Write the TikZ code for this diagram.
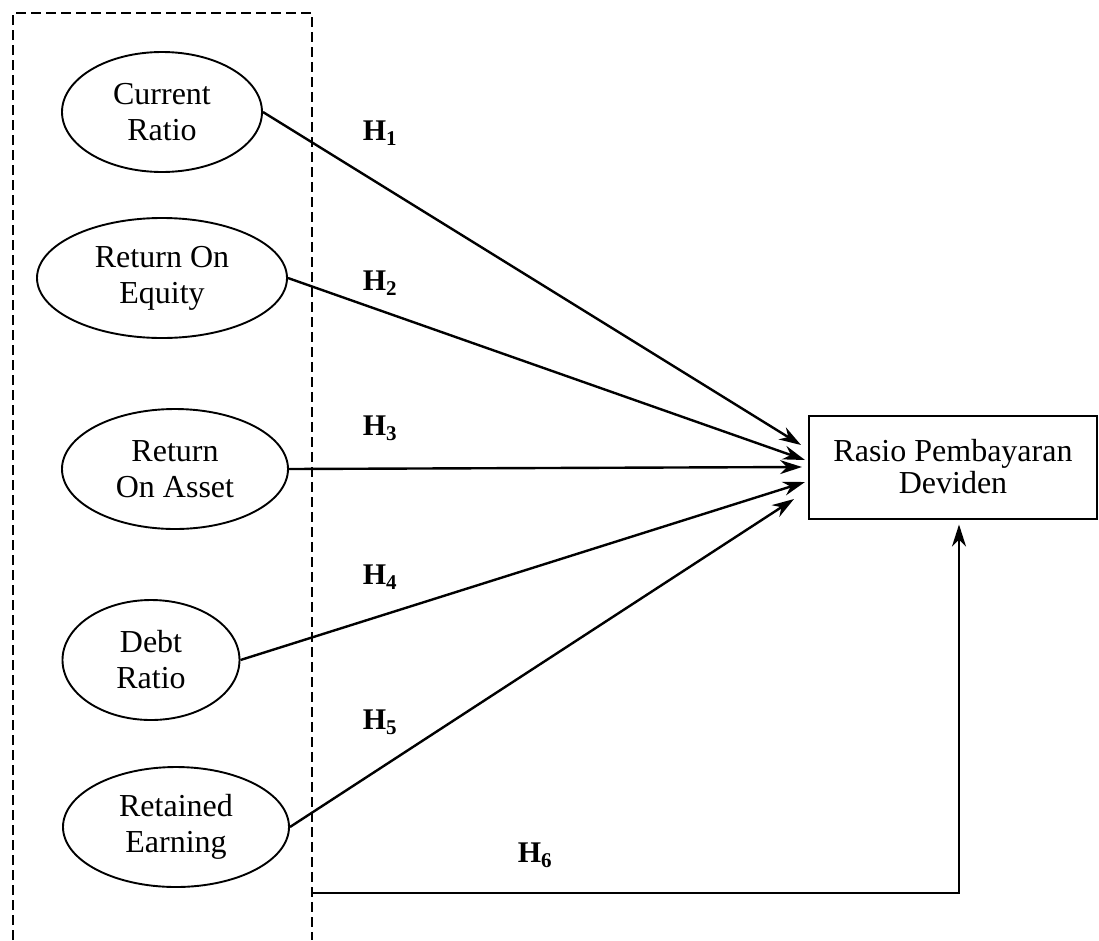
\documentclass[tikz,border=0pt]{standalone}
\usepackage{fontspec}
\setmainfont{Liberation Serif}
\usetikzlibrary{shapes.geometric,arrows.meta,calc}
\begin{document}
\begin{tikzpicture}[x=1pt,y=-1pt,
  var/.style={ellipse,draw,line width=1.9pt,inner sep=0pt,align=center,
    font=\fontsize{32}{36}\selectfont},
  target/.style={rectangle,draw,line width=2pt,inner sep=0pt,align=center,
    minimum width=288pt,minimum height=103pt,font=\fontsize{32}{32}\selectfont},
  link/.style={line width=2.4pt,-{Stealth[length=22pt,width=14pt,inset=7pt]}},
  hlabel/.style={font=\fontsize{30}{30}\selectfont\bfseries,inner sep=0pt},
  group/.style={dashed,dash pattern=on 10pt off 5pt,line width=2pt}]
\useasboundingbox (0,0) rectangle (1099,940);
\draw[group] (13,940) -- (13,13) -- (312,13) -- (312,940);
\node[var,minimum width=200pt,minimum height=120pt] (e1) at (162,112) {Current\\Ratio};
\node[var,minimum width=250pt,minimum height=120pt] (e2) at (162,278) {Return On\\Equity};
\node[var,minimum width=226pt,minimum height=120pt] (e3) at (175,469) {Return\\On Asset};
\node[var,minimum width=177pt,minimum height=120pt] (e4) at (151,660) {Debt\\Ratio};
\node[var,minimum width=226pt,minimum height=120pt] (e5) at (176,827) {Retained\\Earning};
\node[target] (box) at (953,467) {Rasio Pembayaran\\Deviden};
\coordinate (g) at (312,893);
\draw[link] (e1.east) -- ([xshift=-7pt,yshift=22pt]box.west);
\draw[link] (e2.east) -- ([xshift=-3pt,yshift=7pt]box.west);
\draw[link] (e3.east) -- ([xshift=-6pt]box.west);
\draw[link] (e4.east) -- ([xshift=-3pt,yshift=-15pt]box.west);
\draw[link] (e5.east) -- ([xshift=-14pt,yshift=-32pt]box.west);
\draw[link,shorten >=5pt] (g) -| ([xshift=6pt]box.south);
\node[hlabel] (h1) at (380,133) {H\textsubscript{1}};
\node[hlabel] (h2) at (380,283) {H\textsubscript{2}};
\node[hlabel] (h3) at (380,428) {H\textsubscript{3}};
\node[hlabel] (h4) at (380,577) {H\textsubscript{4}};
\node[hlabel] (h5) at (380,722) {H\textsubscript{5}};
\node[hlabel] (h6) at (535,855) {H\textsubscript{6}};
\end{tikzpicture}
\end{document}
